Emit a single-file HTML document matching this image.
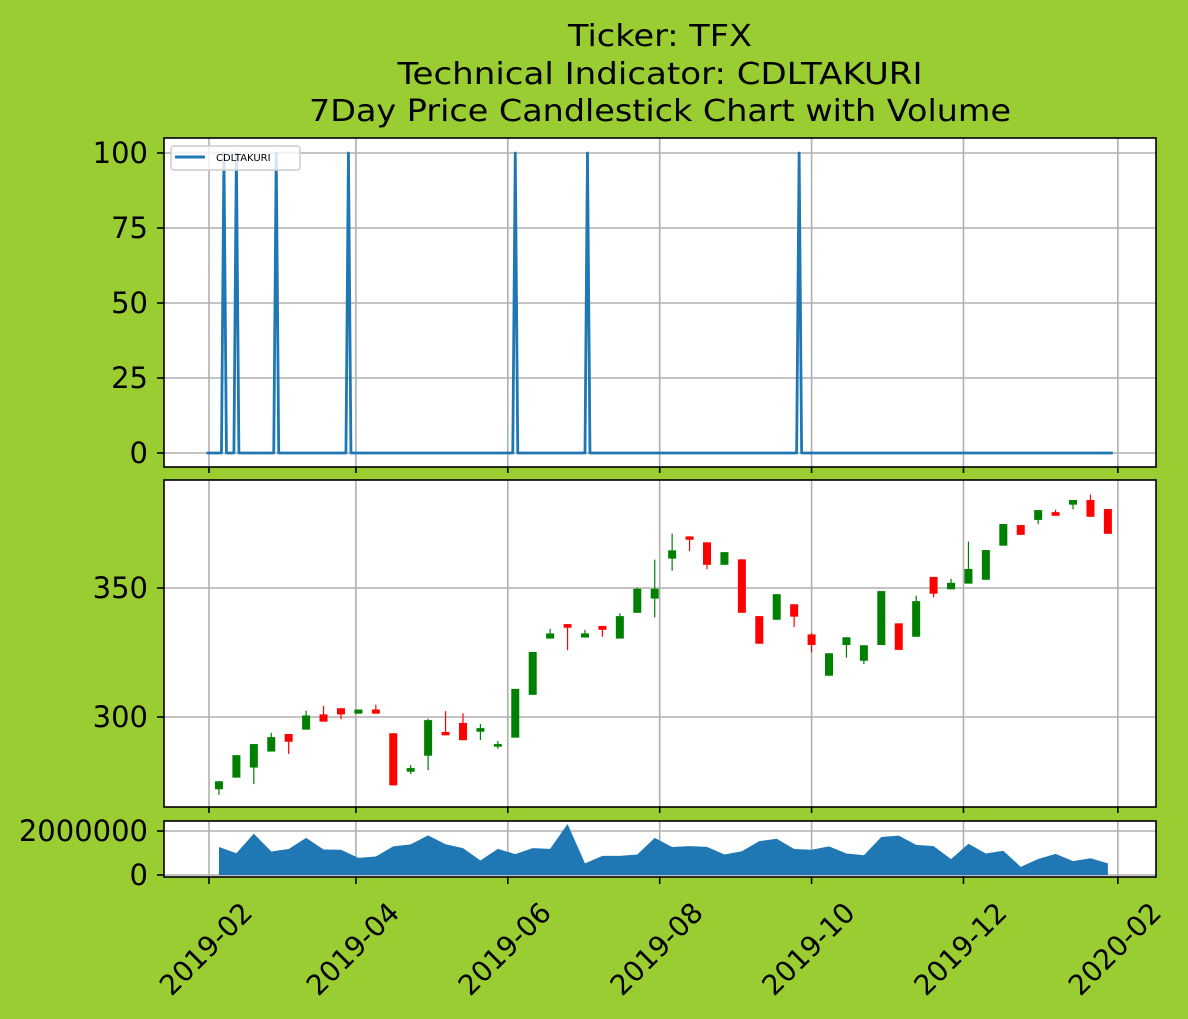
<!DOCTYPE html>
<html><head><meta charset="utf-8"><style>
html,body{margin:0;padding:0;background:#9acd32;}
svg{display:block;font-family:"DejaVu Sans","Liberation Sans",sans-serif;}
</style></head><body>
<svg id="chart" width="1188" height="1019" viewBox="0 0 1188 1019" xmlns="http://www.w3.org/2000/svg">
<rect x="0" y="0" width="1188" height="1019" fill="#9acd32"/>
<g font-size="30" text-anchor="middle" fill="#000">
<text x="660" y="46" textLength="184" lengthAdjust="spacingAndGlyphs">Ticker: TFX</text>
<text x="660" y="84" textLength="525" lengthAdjust="spacingAndGlyphs">Technical Indicator: CDLTAKURI</text>
<text x="660" y="121" textLength="702" lengthAdjust="spacingAndGlyphs">7Day Price Candlestick Chart with Volume</text>
</g>
<rect x="164" y="138" width="992" height="329" fill="#fff"/>
<rect x="164" y="480" width="992" height="327" fill="#fff"/>
<rect x="164" y="821" width="992" height="56" fill="#fff"/>
<g id="grid"></g>
<g id="marks"></g>
<g id="frames" fill="none" stroke="#000" stroke-width="1.6">
<rect x="164" y="138" width="992" height="329"/>
<rect x="164" y="480" width="992" height="327"/>
<rect x="164" y="821" width="992" height="56"/>
</g>
<g id="axes"></g>
<g>
<rect x="171" y="146" width="129" height="24" rx="3" fill="#fff" fill-opacity="0.8" stroke="#ccc" stroke-width="1.5"/>
<line x1="175" y1="157" x2="205" y2="157" stroke="#1f77b4" stroke-width="3"/>
<text x="216" y="161" font-size="10" fill="#000">CDLTAKURI</text>
</g>
</svg>
<script>
const monthTicks = ["2019-02-01","2019-04-01","2019-06-01","2019-08-01","2019-10-01","2019-12-01","2020-02-01"];
const monthLabels = ["2019-02","2019-04","2019-06","2019-08","2019-10","2019-12","2020-02"];
const indTicks = [0,25,50,75,100];
const priceTicks = [300,350];
const volTicks = [0,2000000];
const volTickLabels = ["0","2000000"];
// indicator breakpoints (day offsets from 2019-02-01)
const indDays = [-1,5,6,7,10,11,12,26,27,28,55,56,57,122,123,124,151,152,153,236,237,238,363];
const indVals = [0,0,100,0,0,100,0,0,100,0,0,100,0,0,100,0,0,100,0,0,100,0,0];
const candleStart = "2019-02-05";
const opens  = [272.0,276.5,280.4,286.6,293.4,295.1,301.0,303.4,301.3,302.9,293.7,278.8,285.0,294.2,297.7,294.3,288.5,292.0,308.6,330.4,336.0,330.8,335.3,330.4,340.4,345.9,361.4,370.0,367.7,359.0,361.1,339.1,337.7,343.7,332.0,316.0,327.9,321.8,327.9,336.3,331.1,354.3,349.5,351.7,353.2,366.4,374.4,376.4,379.4,382.3,384.1,380.6];
const highs  = [275.1,285.2,289.5,293.9,293.4,302.5,304.3,303.4,302.9,304.8,293.7,281.4,299.4,302.3,301.4,297.3,290.7,310.9,325.2,334.2,336.0,333.8,335.3,340.2,350.2,361.0,371.1,370.0,367.7,363.9,361.1,339.1,347.6,343.7,332.6,324.7,330.9,327.8,348.8,336.3,347.0,354.3,353.6,368.0,364.7,374.8,374.4,380.2,380.3,384.1,386.2,380.6];
const lows   = [269.8,276.5,274.0,286.6,285.7,295.1,298.2,299.1,301.3,301.3,273.5,277.9,279.4,292.9,291.0,291.1,287.7,292.0,308.6,330.4,325.9,330.8,331.1,330.4,340.4,338.6,356.7,364.3,357.3,359.0,340.4,328.4,337.7,334.9,325.1,316.0,323.0,320.5,327.9,326.0,331.1,346.4,349.5,351.7,353.2,366.4,370.6,374.7,378.0,380.5,377.6,371.0];
const closes = [275.1,285.2,289.5,292.2,290.4,300.6,298.2,301.0,302.9,301.3,273.5,280.2,298.8,292.9,291.0,295.7,289.5,310.9,325.2,332.4,334.6,332.4,333.8,339.1,349.7,349.7,364.6,368.7,359.0,363.9,340.4,328.4,347.6,338.9,327.9,324.7,330.9,327.8,348.8,326.0,344.9,347.8,352.0,357.4,364.7,374.8,370.6,380.2,378.0,384.1,377.6,371.0];
const volumes = [1270000,990000,1880000,1070000,1180000,1690000,1160000,1150000,780000,840000,1300000,1390000,1800000,1400000,1220000,660000,1190000,950000,1220000,1190000,2320000,530000,870000,870000,930000,1690000,1270000,1310000,1280000,930000,1080000,1540000,1650000,1180000,1150000,1300000,980000,900000,1730000,1790000,1370000,1310000,720000,1420000,980000,1100000,370000,730000,960000,630000,760000,530000];

const NS="http://www.w3.org/2000/svg";
const base = Date.UTC(2019,1,1);
function days(s){const p=s.split("-");return (Date.UTC(+p[0],+p[1]-1,+p[2])-base)/86400000;}
function xd(d){return 209 + d*2.49;}
function yInd(v){return 453 - v*3;}
function yPrice(p){return 717 - (p-300)*2.58;}
function yVol(v){return 875 - v/1e6*22;}
function mk(tag,attrs,parent){const e=document.createElementNS(NS,tag);for(const k in attrs)e.setAttribute(k,attrs[k]);parent.appendChild(e);return e;}
const grid=document.getElementById('grid'), marks=document.getElementById('marks'), axes=document.getElementById('axes');
const panels=[[138,467],[480,807],[821,877]];
monthTicks.forEach((t,i)=>{const x=xd(days(t));
  if(x<1156) panels.forEach(p=>{const l=mk('line',{x1:x,x2:x,y1:p[0],y2:p[1],stroke:'#b0b0b0','stroke-width':1.6},grid);
    
    });
  const tk=mk('line',{x1:x,x2:x,y1:877,y2:884,stroke:'#000','stroke-width':1.6},axes);
  
  
  [467,807].forEach(yb=>{mk('line',{x1:x,x2:x,y1:yb,y2:yb+6,stroke:'#000','stroke-width':1.6},axes);});
  const tx=mk('text',{x:0,y:0,'font-size':28,'text-anchor':'middle','dominant-baseline':'central',transform:`translate(${x-3},949) rotate(-45)`},axes);
  tx.textContent=monthLabels[i];
  
  
});
function yAxis(ticks,labels,fy){ticks.forEach((v,i)=>{const y=fy(v);
  const g=mk('line',{x1:164,x2:1156,y1:y,y2:y,stroke:'#b0b0b0','stroke-width':1.6},grid);
  
  
  mk('line',{x1:157,x2:164,y1:y,y2:y,stroke:'#000','stroke-width':1.6},axes);
  const t=mk('text',{x:148,y:y+10,'font-size':29,'text-anchor':'end'},axes);
  t.textContent=labels[i];
  
  });}
yAxis(indTicks,indTicks.map(String),yInd);
yAxis(priceTicks,priceTicks.map(String),yPrice);
yAxis(volTicks,volTickLabels,yVol);
const pts=indDays.map((d,i)=>xd(d)+','+yInd(indVals[i])).join(' ');
const ln=mk('polyline',{points:pts,fill:'none',stroke:'#1f77b4','stroke-width':2.8,'stroke-linejoin':'round'},marks);


const c0=days(candleStart);
opens.forEach((o,i)=>{const x=xd(c0+7*i), c=closes[i], col=c>=o?'#008000':'#ff0000';
  const w=mk('line',{x1:x,x2:x,y1:yPrice(highs[i]),y2:yPrice(lows[i]),stroke:col,'stroke-width':1.2},marks);
  
  
  const yt=yPrice(Math.max(o,c)), yb=yPrice(Math.min(o,c));
  const r=mk('rect',{x:x-4,y:yt,width:8,height:Math.max(yb-yt,1),fill:col},marks);
  
  });
let vp=xd(c0)+','+yVol(0)+' ';
volumes.forEach((v,i)=>{vp+=xd(c0+7*i)+','+yVol(v)+' ';});
vp+=xd(c0+7*(volumes.length-1))+','+yVol(0);
const va=mk('polygon',{points:vp,fill:'#1f77b4'},marks);


</script>
</body></html>
